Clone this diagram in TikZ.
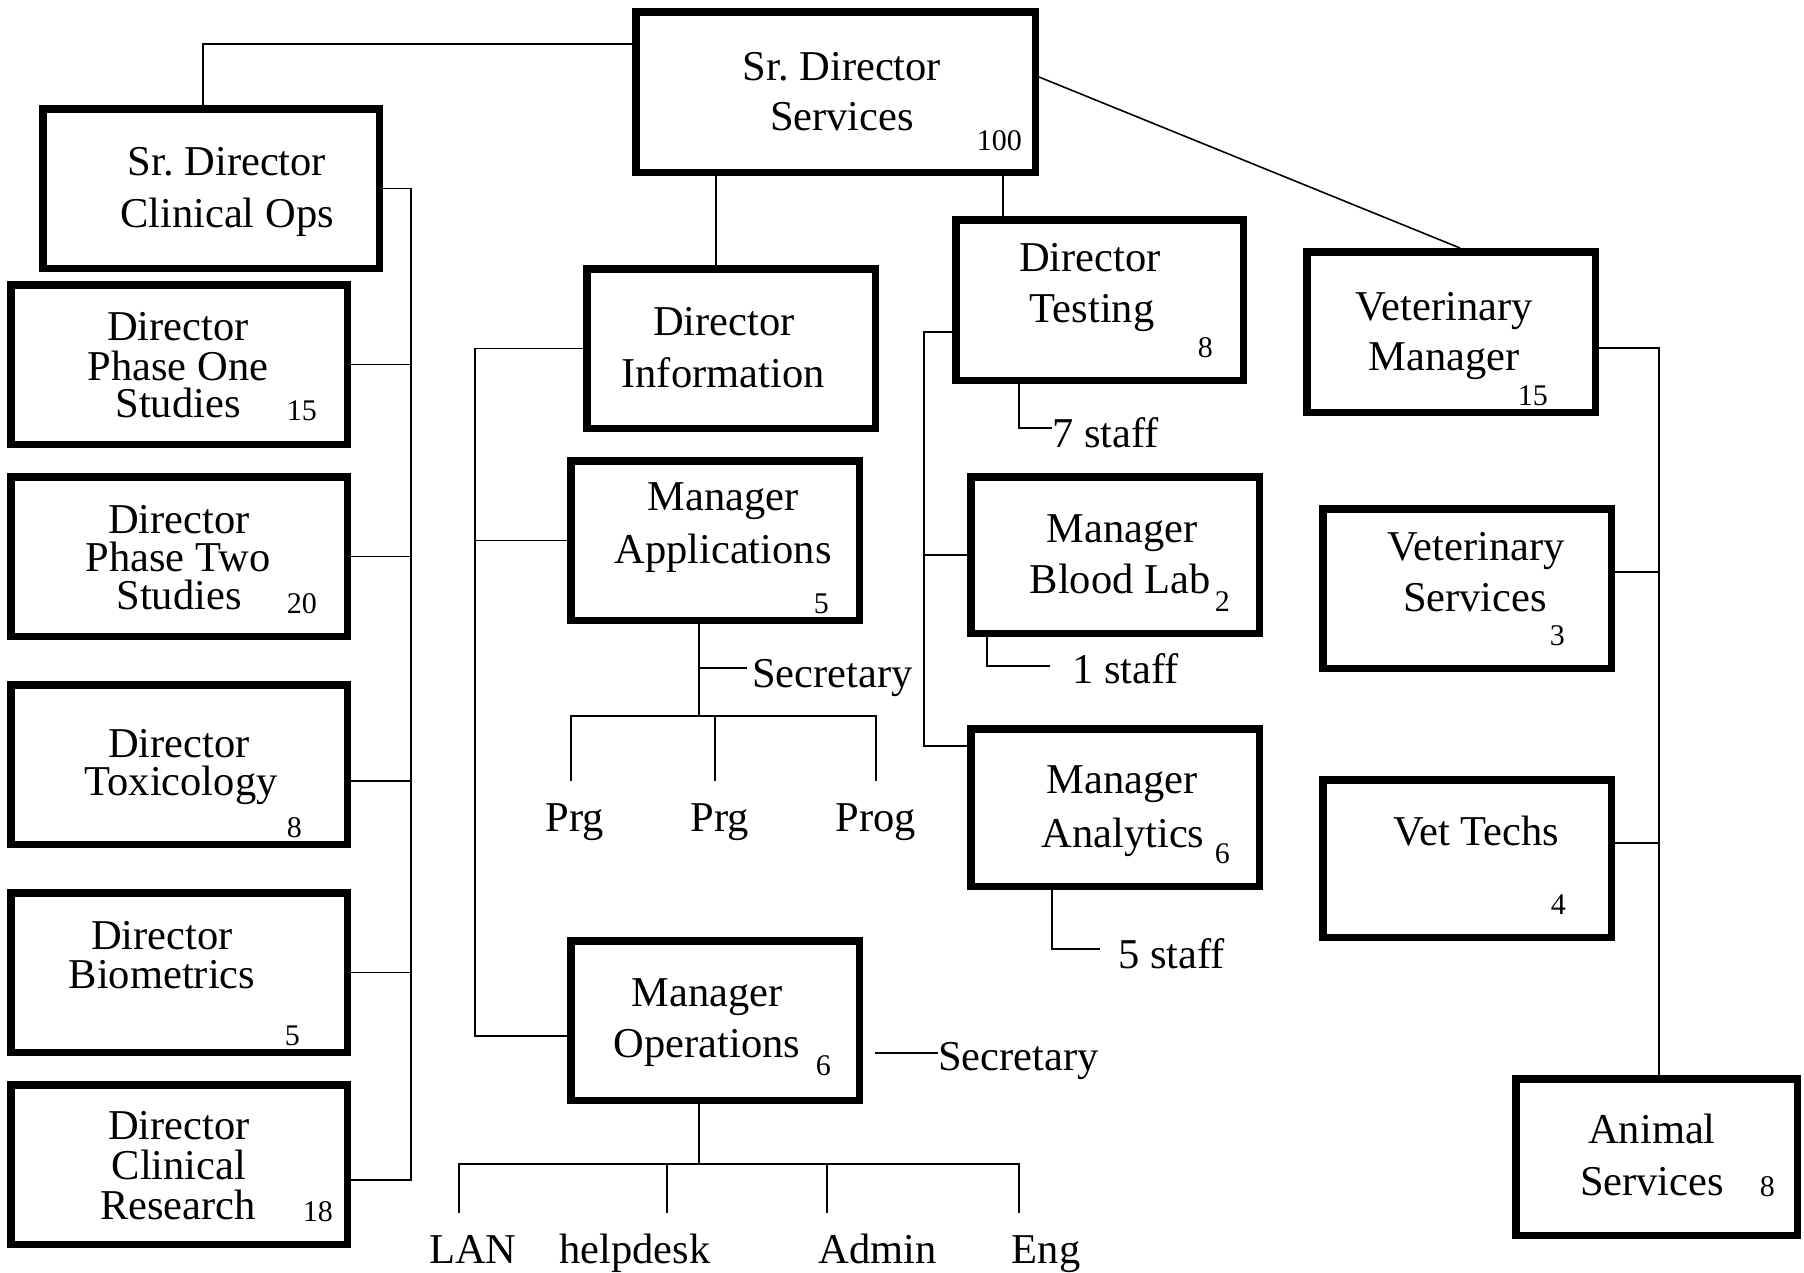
\documentclass[tikz,border=0pt]{standalone}
\usepackage{fontspec}
\setmainfont{Liberation Serif}
\usetikzlibrary{calc}
\begin{document}
\begin{tikzpicture}[x=1pt,y=-1pt,
  orgbox/.style={draw, line width=7.5pt, rectangle, inner sep=0pt, minimum width=288.5pt, minimum height=159.5pt},
  conn/.style={line width=1.6pt},
  lab/.style={font=\fontsize{42.5}{50}\selectfont, anchor=base, inner sep=0pt},
  labw/.style={lab, anchor=base west},
  num/.style={font=\fontsize{30}{36}\selectfont, anchor=base east, inner sep=0pt}]
\fill[white] (0,0) rectangle (1804,1272);
\useasboundingbox (0,0) rectangle (1804,1272);

% boxes
\node[orgbox, minimum width=399.5pt, minimum height=160.5pt] (top) at (835.5,92) {};
\node[orgbox, minimum width=336.5pt] (clinops) at (211,188.5) {};
\node[orgbox, minimum width=336.5pt] (ph1) at (179,364.5) {};
\node[orgbox, minimum width=336.5pt] (ph2) at (179,556.5) {};
\node[orgbox, minimum width=336.5pt] (tox) at (179,764.5) {};
\node[orgbox, minimum width=336.5pt] (bio) at (179,972.5) {};
\node[orgbox, minimum width=336.5pt] (cr) at (179,1164.5) {};
\node[orgbox] (dinfo) at (731,348.5) {};
\node[orgbox] (mapp) at (715,540.5) {};
\node[orgbox] (mops) at (715,1020.5) {};
\node[orgbox, minimum width=287.5pt, minimum height=160.5pt] (dtest) at (1099.5,300) {};
\node[orgbox, minimum height=156.5pt] (mblood) at (1115,555) {};
\node[orgbox, minimum height=157.5pt] (manal) at (1115,807.5) {};
\node[orgbox, minimum height=160.5pt] (vetmgr) at (1451,332) {};
\node[orgbox] (vetsvc) at (1467,588.5) {};
\node[orgbox, minimum height=157.5pt] (vettech) at (1467,858.5) {};
\node[orgbox, minimum width=281.5pt, minimum height=156.5pt] (animal) at (1656.5,1157) {};

% box texts
\node[lab] (top1) at (842,80) {Sr.\ Director};
\node[lab] (top2) at (842,130) {Services};
\node[num] (topn) at (1022,150) {100};

\node[lab] (co1) at (227,175) {Sr.\ Director};
\node[lab] (co2) at (227,227) {Clinical Ops};

\node[lab] (p11) at (178,340) {Director};
\node[lab] (p12) at (178,380) {Phase One};
\node[lab] (p13) at (178,417) {Studies};
\node[num] (p1n) at (317,420) {15};

\node[lab] (p21) at (179,533) {Director};
\node[lab] (p22) at (178,571) {Phase Two};
\node[lab] (p23) at (179,609) {Studies};
\node[num] (p2n) at (317,613) {20};

\node[lab] (tx1) at (179,757) {Director};
\node[lab] (tx2) at (181,795) {Toxicology};
\node[num] (txn) at (302,837) {8};

\node[lab] (bi1) at (162,949) {Director};
\node[lab] (bi2) at (162,988) {Biometrics};
\node[num] (bin) at (300,1045) {5};

\node[lab] (cr1) at (179,1139) {Director};
\node[lab] (cr2) at (179,1179) {Clinical};
\node[lab] (cr3) at (178,1219) {Research};
\node[num] (crn) at (333,1221) {18};

\node[lab] (di1) at (724,335) {Director};
\node[lab] (di2) at (723,387) {Information};

\node[lab] (ma1) at (723,510) {Manager};
\node[lab] (ma2) at (723,563) {Applications};
\node[num] (man) at (829,613) {5};

\node[lab] (mo1) at (707,1006) {Manager};
\node[lab] (mo2) at (707,1057) {Operations};
\node[num] (mon) at (831,1075) {6};

\node[lab] (dt1) at (1090,271) {Director};
\node[lab] (dt2) at (1092,322) {Testing};
\node[num] (dtn) at (1213,357) {8};

\node[lab] (mb1) at (1122,542) {Manager};
\node[lab] (mb2) at (1120,593) {Blood Lab};
\node[num] (mbn) at (1230,611) {2};

\node[lab] (mn1) at (1122,793) {Manager};
\node[lab] (mn2) at (1123,847) {Analytics};
\node[num] (mnn) at (1230,863) {6};

\node[lab] (vm1) at (1444,320) {Veterinary};
\node[lab] (vm2) at (1444,370) {Manager};
\node[num] (vmn) at (1548,405) {15};

\node[lab] (vs1) at (1476,560) {Veterinary};
\node[lab] (vs2) at (1475,611) {Services};
\node[num] (vsn) at (1565,645) {3};

\node[lab] (vt1) at (1476,845) {Vet Techs};
\node[num] (vtn) at (1566,914) {4};

\node[lab] (an1) at (1652,1143) {Animal};
\node[lab] (an2) at (1652,1195) {Services};
\node[num] (ann) at (1775,1196) {8};

% outside labels
\node[labw] (s7) at (1052,447) {7 staff};
\node[labw] (s1) at (1072,683) {1 staff};
\node[labw] (s5) at (1118,968) {5 staff};
\node[labw] (sec1) at (752,687) {Secretary};
\node[labw] (sec2) at (938,1070) {Secretary};
\node[lab] (pg1) at (575,831) {Prg};
\node[lab] (pg2) at (720,831) {Prg};
\node[lab] (pg3) at (876,831) {Prog};
\node[lab] (lan) at (473,1263) {LAN};
\node[lab] (help) at (635,1263) {helpdesk};
\node[lab] (admin) at (878,1263) {Admin};
\node[lab] (eng) at (1046,1263) {Eng};

% spine coordinates
\coordinate (LS) at (411,0);
\coordinate (IS) at (475,0);
\coordinate (TS) at (924,0);
\coordinate (VS) at (1659,0);
\coordinate (abus) at (699,716);
\coordinate (obus) at (699,1164);

% top connectors
\draw[conn] ([yshift=48pt]top.west) -| ([xshift=-8pt]clinops.north);
\draw[conn] ([yshift=15pt]top.east) -- ([xshift=9pt]vetmgr.north);
\draw[conn] ([xshift=-15pt]dinfo.north) -- ([xshift=-15pt]dinfo.north |- top.south);
\draw[conn] ([xshift=-96.5pt]dtest.north) -- ([xshift=-96.5pt]dtest.north |- top.south);

% left spine
\draw[conn] (clinops.east) -| ([yshift=-15.5pt]cr.east -| LS) -- ([yshift=-15.5pt]cr.east);
\draw[conn] (ph1.east) -- (ph1.east -| LS);
\draw[conn] (ph2.east) -- (ph2.east -| LS);
\draw[conn] ([yshift=-16.5pt]tox.east) -- ([yshift=-16.5pt]tox.east -| LS);
\draw[conn] (bio.east) -- (bio.east -| LS);

% information spine
\draw[conn] (dinfo.west) -| ([yshift=-15.5pt]mops.west -| IS) -- ([yshift=-15.5pt]mops.west);
\draw[conn] (mapp.west) -- (mapp.west -| IS);

% testing spine
\draw[conn] ([yshift=-32pt]dtest.west) -| ([yshift=61.5pt]manal.west -| TS) -- ([yshift=61.5pt]manal.west);
\draw[conn] (mblood.west) -- (mblood.west -| TS);

% veterinary spine
\draw[conn] ([yshift=-16pt]vetmgr.east) -| ([xshift=2.5pt]animal.north);
\draw[conn] ([yshift=16.5pt]vetsvc.east) -- ([yshift=16.5pt]vetsvc.east -| VS);
\draw[conn] ([yshift=15.5pt]vettech.east) -- ([yshift=15.5pt]vettech.east -| VS);

% staff lines
\draw[conn] ([xshift=-80.5pt]dtest.south) |- ([yshift=19pt]s7.base west);
\draw[conn] ([xshift=-128pt]mblood.south) |- ([xshift=-22pt,yshift=17pt]s1.base west);
\draw[conn] ([xshift=-63pt]manal.south) |- ([xshift=-18pt,yshift=19pt]s5.base west);

% applications bus
\draw[conn] ([xshift=-16pt]mapp.south) -- (abus);
\draw[conn] ([xshift=-5pt,yshift=19pt]sec1.base west) -- ++(-48,0);
\draw[conn] ([xshift=-4pt,yshift=50pt]pg1.base) |- (abus) -| ([yshift=50pt]pg3.base);
\draw[conn] ([xshift=-5pt,yshift=50pt]pg2.base) -- ++(0,-65);

% operations bus
\draw[conn] ([xshift=-16pt]mops.south) -- (obus);
\draw[conn] ([yshift=17pt]sec2.base west) -- ++(-63,0);
\draw[conn] ([xshift=-14pt,yshift=50pt]lan.base) |- (obus) -| ([xshift=-27pt,yshift=50pt]eng.base);
\draw[conn] ([xshift=32pt,yshift=50pt]help.base) -- ++(0,-49);
\draw[conn] ([xshift=-51pt,yshift=50pt]admin.base) -- ++(0,-49);
\end{tikzpicture}
\end{document}
